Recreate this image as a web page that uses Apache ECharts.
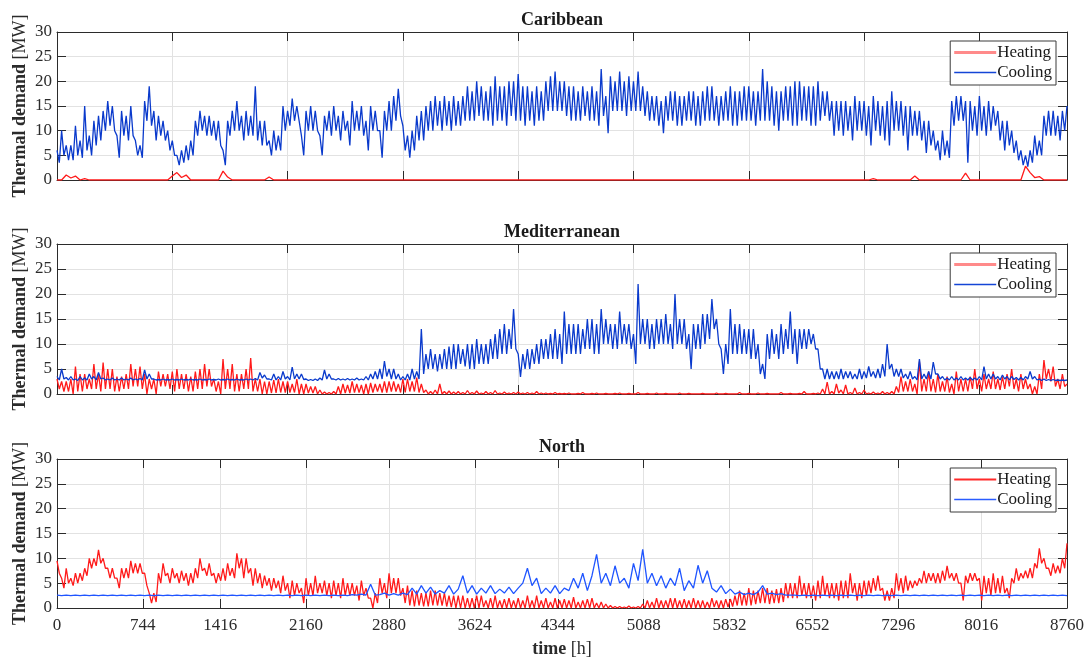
<!DOCTYPE html>
<html>
<head>
<meta charset="utf-8">
<script src="https://cdn.jsdelivr.net/npm/echarts@6/dist/echarts.min.js"></script>
<style>
html,body{margin:0;padding:0;background:#fff;}
#c{width:1087px;height:657px;}
</style>
</head>
<body>
<div id="c"></div>
<script>
// ---------- DATA ----------
const STEP_FINE_H = 20;   // hours between read samples for the dense traces
const STEP_COARSE_H = 40; // hours between read samples for the quiet traces
const panelTitles = ['Caribbean', 'Mediterranean', 'North'];
const seriesNames = ['Heating', 'Cooling'];
const monthTicks = [0, 744, 1416, 2160, 2880, 3624, 4344, 5088, 5832, 6552, 7296, 8016, 8760];
const kiloTicks = [0, 1000, 2000, 3000, 4000, 5000, 6000, 7000, 8000];

// Caribbean cooling (20 h samples, 0..8760)
const caribCooling = [
 6,3.5,10,5,7,4,7,4,11,5,8,4.5,15,6,9,5,12,7,13,8,
 14,10,16,11,15,10,9,4.5,14,9,13,8,15,9,8,5,7,4.5,16,12,
 19,11,14,8,13,9,12,8,10,6,8,5,5,3,6,3.5,7,4,8,5,
 12,9,14,10,13,9,13,9,12,8,12,7,6,3,12,9,14,10,16,10,
 13,8,14,9,13,9,19,8,12,7,12,7,8,5,10,6,9,6,15,10,
 14,11,16.5,12,15,12,9,5,14,10,15,10,14,10,9,5,13,10,14,9,
 15,10,13,8,14,10,12,7,16,10,14,10,15,9,12,6,15,10,14,10,
 10,4.5,14,10,16,10,17,12,18.5,13,11,6,9,4.5,10,6,13,8,14,8,
 15,10,16,10,17,11,16,10,17,11,16,10,17,11,16,11,17,12,19,12,
 18,12,20,13,19,12,18,12,19,11,21,12,19,12,19,11,20,13,20,12,
 21.5,12,19,11,19,12,18,11,19,12,18,12,20,14,21,14,22,14,20,14,
 20,13,19,12,19,12,18,12,19,13,18,12,19,12,18,11,22.5,13,17,9.5,
 21,14,20,14,22,14,20,13,21,14,20,14,22,14,19,13,18,12,17,12,
 17,11,16,9.5,17,12,18,12,18,11,17,11,17,12,18,12,18,11,17,11,
 18,12,19,12,19,12,17,11,17,12,18,12,19,11,18,11,18,12,19,12,
 19,12,18,11,18,12,22.5,12,20,12,19,11,18,10,18,12,19,12,19,11,
 20,11,20,12,19,12,19,11,19,11,20,12,18,13,18,12,16,9,16,10,
 16,9,16,10,15,8,17,10,16,10,16,9,15,7,17,10,16,9,15,8,
 16,7,18,10,16,10,16,9,15,6,15,9,14,9,14,8,12,5.5,12,7,
 10,6,8,4,10,5,8,4.5,16,11,17,12,17,12,16,3.5,16,10,15,9,
 17,10,15,9,16,10,15,11,14,8,12,6,12,7,10,5.5,8,4,6,3,
 5,2.7,6,3.5,9,5,8,5,13,9,14,9,14,9,13,8,14,10,15
];
// Caribbean heating (40 h samples)
const caribHeating = [
 0,0,1,0.4,0.8,0,0.3,0,0,0,
 0,0,0,0,0,0,0,0,0,0,
 0,0,0,0,0,0.8,1.5,0.5,1,0,
 0,0,0,0,0,0,1.8,0.6,0,0,
 0,0,0,0,0,0,0.6,0,0,0,
 0,0,0,0,0,0,0,0,0,0,
 0,0,0,0,0,0,0,0,0,0,
 0,0,0,0,0,0,0,0,0,0,
 0,0,0,0,0,0,0,0,0,0,
 0,0,0,0,0,0,0,0,0,0,
 0,0,0,0,0,0,0,0,0,0,
 0,0,0,0,0,0,0,0,0,0,
 0,0,0,0,0,0,0,0,0,0,
 0,0,0,0,0,0,0,0,0,0,
 0,0,0,0,0,0,0,0,0,0,
 0,0,0,0,0,0,0,0,0,0,
 0,0,0,0,0,0,0,0,0,0,
 0,0,0,0,0,0,0,0.3,0,0,
 0,0,0,0,0,0,0.8,0,0,0,
 0,0,0,0,0,0,0,1.4,0,0,
 0,0,0,0,0,0,0,0,0,0,
 2.8,1.5,0.5,0.7,0,0,0,0,0,0
];

// Mediterranean cooling (20 h samples)
const medCooling = [
 3.5,2.8,5,3,3.3,2.8,3.5,2.8,3,2.7,3.5,2.8,3.2,2.8,4,3,3.5,2.8,4.3,3,
 3.2,2.8,3,2.8,3.2,2.8,3,2.8,3.2,2.8,3,2.8,3.2,2.8,3,2.8,3.1,2.8,4.8,3,
 4,3,3,2.8,2.9,2.8,3,2.8,2.9,2.8,3,2.8,2.9,2.8,3,2.8,2.9,2.8,3,2.8,
 2.9,2.8,3,2.8,2.9,2.8,3,2.8,2.9,2.8,3,2.8,2.9,2.8,3,2.8,2.9,2.8,3,2.8,
 2.9,2.8,3,2.8,3,2.8,3.1,2.8,4.3,3.2,3.8,3,3,2.8,4,2.8,3.5,2.8,4.5,3,
 3.5,2.8,5.4,3,4,3,4,2.9,3,2.7,2.9,2.7,3,2.7,3.2,2.8,4.8,3,4,3,
 3,2.8,3.1,2.8,3,2.8,3.1,2.8,3,2.8,3.2,2.8,3,2.8,3.5,2.8,4,3,4.5,3,
 5,3,6.6,3.5,5,3,5,3,4,2.8,3.5,2.8,4,2.8,5,3,4.5,3,13,4,
 8,5,9,5,8,4.5,8,5,9,5,9.5,5,10,5,10,6,9,5.5,10,5,
 10,5,11,6,10,6,10,6,11,7,12,7,13,8,14,8,13,9,17,9,
 8,3.4,8,5,9,5,9,6,10,6,11,7,11,7,12,7,13,7,12,6,
 16.5,8,14,8,14,8,14,8,13,9,15,9,15,8,14,8,17,10,15,10,
 14,9,14,9,16.5,10,14,10,14,9,12,6,22,10,15,10,15,9,14,9,
 15,10,15,10,16,10,14,9,20,10,15,10,15,9,12,5,14,9,14,9,
 16,10,16,11,19,13,15,10,9,4,10,6,17,8,14,8,14,8,13,8,
 13,7,13,7,10,4,6,3,12,7,13,8,12,7,14,8,13,9,16.5,8,
 13,6,13,9,13,9,13,10,12,9,9,5,5,3,5,3,4.5,3,4.5,3,
 5,3,4.5,3.2,4.5,3,4,3,5,3,4.5,3.2,5.5,3.5,4.5,3.2,5,3.2,6,3.5,
 10,5,6,3.5,5,3.5,5,3.2,4,3,4.5,3,3.5,2.8,7,3,4,3,4.5,3,
 6.4,4,4,3,3.5,2.8,3.2,2.8,3.5,2.8,3.2,2.8,3.5,2.8,3.2,2.8,3.3,2.8,3.2,2.8,
 3.5,2.8,5.5,3,4,3,4,3,3.5,2.8,3.8,3,3.5,2.8,3.5,2.9,3.3,2.8,3.3,2.8,
 3.5,3,4.5,3,3.5,2.8,3,2.7,3,2.7,2.9,2.7,2.9,2.7,2.8,2.7,2.8,2.7,2.8
];
// Mediterranean heating (20 h samples)
const medHeating = [
 3,1,2.5,0.5,2.5,0.5,3,0,5.5,0.5,4,0.5,4,1,3,1,6,1,4,0.5,
 6.3,1,5,1,5,0.5,3.5,0.5,3.5,1,4,1,6,1.5,5,1.5,5.5,1,4,0,
 3,1,3,0,4.5,1.5,4,1.5,4,1,4.5,0.5,5,1,4,1,4,0.5,3.5,0.5,
 4.5,1,5,1,6,1.5,5,1.5,3,0.5,2.5,0,7,1,5,1,6,0.5,4,0.5,
 4,1,5,1,7.2,0.5,3,0.5,3,0,2.5,0,2.5,0.2,2.8,0.2,3,0.3,2.5,0.3,
 2.5,0.3,2,0.3,3,0,2,0,2,0.2,1.5,0.2,1.5,0,0.8,0,0.4,0,0.3,0,
 0.5,0,1.5,0,2,0.2,1.8,0.2,2.5,0.3,2,0.3,1.8,0,2,0,2.2,0.3,2,0.5,
 2,0.3,2.5,0.3,2.5,0.5,2.5,0.5,2,0.3,3,0.3,3,0.5,2.5,0.5,3.3,0.3,2,0.3,
 0.8,0,0.5,0,0.8,0,2,0,0.5,0,0.6,0,0.4,0,0.5,0,0.3,0,0.7,0,
 0.3,0,0.6,0,0.2,0,0.5,0,0.3,0,0.7,0,0.2,0,0.4,0,0.2,0,0.3,0,
 0.4,0,0.2,0,0.3,0,0.2,0,0.5,0,0.2,0,0.2,0,0.1,0,0.3,0,0.1,0,
 0.1,0,0.2,0,0,0,0.1,0,0.3,0,0,0,0.1,0,0.2,0,0,0,0.1,0,
 0,0,0.1,0,0.2,0,0,0,0.1,0,0,0,0.3,0,0,0,0.1,0,0,0,
 0.2,0,0,0,0.1,0,0,0,0,0,0.2,0,0,0,0.1,0,0,0,0,0,
 0.1,0,0,0,0,0,0.2,0,0,0,0.1,0,0,0,0,0,0.3,0,0,0,
 0.1,0,0,0,0.2,0,0,0,0.1,0,0,0,0,0,0.3,0,0,0,0.1,0,
 0,0,0.1,0,0.5,0,0,0,0.1,0,0.2,0,1,0,2.4,0,0.5,0,2,0.2,
 0.8,0,1.8,0,0.3,0,1.2,0,0.3,0,0.8,0,0.2,0,0.4,0,0.2,0,0.5,0,
 0.3,0,0.5,0,1.5,0.3,3.5,0.5,2.5,0.5,3,0.5,2,0,6.5,0.5,3,0.5,4.5,0.5,
 3,0.3,4,0.5,2.5,0.5,3.5,0.3,2,0,4.5,0.5,3,0.5,3,0.5,3.5,1,5,1,
 3,0.5,4,1,3,1,4.5,1,3,0.8,3.5,1,4,1.5,5,1,3,0.5,4,1,
 3,1,2,0,1.5,0,4,1,6.8,3,5,2.5,5.5,1.5,3,1,4,1.5,2
];

// North heating (20 h samples)
const northHeating = [
 9.5,7,6,4,8,5,6,4.5,7,5,7,5.5,8,6.5,10,8,10,8.5,11.7,9,
 10,8,8,6,8,6,6,4,8,6,8,6,9.5,7,9,7,9,7,7,4.5,
 3,1,3,1.2,7,5,9,6.5,7,5,8,6,7,5,7.5,5.5,7,4.5,7,5,
 8,6,10,7.5,8,6.5,9,6.5,7,5,7,5.5,8,5.5,9,6.5,8,6,11,8,
 10,6,10,7,8,4.5,8,5,7,4,6.5,4.5,6,3.5,6,4,5.5,3,6.5,3.5,
 5,2,5.5,2.5,5,3,4,1,6,2.5,5,2.5,6.5,3,5,3,5.5,2.5,5,2,
 5.5,2.5,5,2,6,2.5,5,2.5,5,2.5,4.5,1.5,5.5,2.5,4,2,2,0,3,1,
 6,3,5,2,7,3,6,3,6,2.5,4,1,4.5,0.5,3.5,0.3,3.5,0.5,3,0.3,
 3,0.3,3.5,0.5,3.5,0.5,3,0.5,3,0.3,2.5,0.2,2.5,0,2.5,0,2.5,0,2,0,
 2,0,2.5,0,2.5,0.2,1.5,0,2,0,2.5,0,1.5,0,1.8,0,2,0,1.5,0,
 2,0,1.5,0,2.5,0,1.5,0,2.5,0,1.5,0,2,0,1.2,0,2,0,1.5,0,
 1.8,0,1.5,0,2.2,0,1.2,0,1.5,0,1.8,0,2,0,1,0,1.2,0,0.8,0,
 0.5,0,0.3,0,0.3,0,0.2,0,0.4,0,0.2,0,0.3,0,0.8,0,1.5,0,1.2,0,
 2,0,1.5,0,1.5,0,2,0,2,0,1.5,0,1.8,0,1.5,0,2,0,1.5,0,
 1.5,0,1.2,0,2,0.2,1.5,0,1.5,0,1.8,0.2,1.8,0.3,2.5,0.5,3.5,0.5,3,0.5,
 4,0.5,3.5,0.8,3.5,1,4,1,4,0.8,3.5,1,3.8,1,4,1.2,5,2,5,2,
 5,2,6.5,2.5,5,2,5,2,4.5,1.5,5.5,2,6.5,2.5,5,2,5,2,5,1.5,
 5.5,2,5.5,2,7,3,5,1.5,5,2,5.5,2.5,5.5,3,6,3.5,6.5,3.5,4,1.5,
 3.5,1.5,4,2,7,3.5,6,3,6.5,3.5,5.5,4,5.5,4.5,6,5,7.5,5,7,5.5,
 7,5,7,5,7.5,5.5,8.5,6,7,5.5,7,5,5,1.5,6.5,5,7,5.5,7,5.5,
 6,1.5,6.5,3,6,2.5,7,3,6,3,6.5,3,4,2,6,5,8,5.5,7,6,
 7.5,6,8,6,9,8,12,9,10,8,8,6.5,9,7,8.5,7,10,8,13
];
// North cooling (40 h samples)
const northCooling = [
 2.6,2.5,2.6,2.5,2.6,2.5,2.6,2.5,2.6,2.5,
 2.6,2.5,2.6,2.5,2.6,2.5,2.6,2.5,2.6,2.5,
 2.6,2.5,2.6,2.5,2.6,2.5,2.6,2.5,2.6,2.5,
 2.6,2.5,2.6,2.5,2.6,2.5,2.6,2.5,2.6,2.5,
 2.6,2.5,2.6,2.5,2.6,2.5,2.6,2.5,2.6,2.5,
 2.6,2.5,2.6,2.5,2.6,2.5,2.6,2.5,2.6,2.5,
 2.6,2.5,2.6,2.5,2.7,2.6,2.8,2.6,4.8,2.6,
 2.7,3,2.6,2.9,2.6,3,2.7,4,2.8,4.5,
 3,4.2,2.8,3.5,3,4.5,2.8,3.8,6.5,3,
 4.5,2.8,4,3,4.5,2.9,3.8,3,4.2,2.9,
 4,5,8,4.5,6,2.9,4,3,4.5,2.9,
 4,3.5,6,4,7,3.5,6.5,10.8,5,7,
 4.5,8.5,5,6,4,9,5.5,11.8,5,7,
 4.5,6.5,4,6,4.5,8,3.5,5.5,4,8.6,
 5,7.5,4,3.2,4.5,2.9,3.8,2.8,3.2,2.7,
 3,2.7,3.2,4.5,2.8,3,2.7,2.9,2.6,2.6,
 2.6,2.5,2.6,2.5,2.6,2.5,2.6,2.5,2.6,2.5,
 2.6,2.5,2.6,2.5,2.6,2.5,2.6,2.5,2.6,2.5,
 2.6,2.5,2.6,2.5,2.6,2.5,2.6,2.5,2.6,2.5,
 2.6,2.5,2.6,2.5,2.6,2.5,2.6,2.5,2.6,2.5,
 2.6,2.5,2.6,2.5,2.6,2.5,2.6,2.5,2.6,2.5,
 2.6,2.5,2.6,2.5,2.6,2.5,2.6,2.5,2.6,2.5
];

const heatingData = [caribHeating, medHeating, northHeating];
const heatingStep = [STEP_COARSE_H, STEP_FINE_H, STEP_FINE_H];
const coolingData = [caribCooling, medCooling, northCooling];
const coolingStep = [STEP_FINE_H, STEP_FINE_H, STEP_COARSE_H];

// ---------- STYLE ----------
const FONT = '"Liberation Serif", "Times New Roman", serif';
const AXIS_C = '#2b2b2b';
const GRID_C = '#e2e2e2';
const TEXT_C = '#2b2b2b';
const HEAT_C = ['#ff1a1a', '#ff1a1a', '#ff1a1a'];
const COOL_C = ['#0a3acc', '#0a3acc', '#1f55ff'];
const LEG_HEAT_C = ['#ff8a8a', '#ff8a8a', '#ff2a2a'];
const LEG_COOL_C = ['#1446d6', '#1446d6', '#2a5cff'];
const LEG_HEAT_ICON = ['path://M0,0H42V3H0Z', 'path://M0,0H42V3H0Z', 'path://M0,0H42V2H0Z'];
const LEG_COOL_ICON = 'path://M0,0H42V1.6H0Z';

const grids = [
  {left: 57, right: 20, top: 32, height: 148},
  {left: 57, right: 20, top: 244, height: 150},
  {left: 57, right: 20, top: 459, height: 149}
];
const legendTops = [41, 253, 468];

const toPairs = (arr, step) => arr.map((v, i) => [i * step, v]);

const xAxes = [], yAxes = [], series = [], legends = [];
for (let p = 0; p < 3; p++) {
  const ticks = p === 2 ? monthTicks : kiloTicks;
  const tickStyle = {show: true, inside: true, length: 9, customValues: ticks, lineStyle: {color: AXIS_C, width: 1}};
  xAxes.push({
    gridIndex: p, type: 'value', min: 0, max: 8760, position: 'bottom',
    axisLine: {show: true, onZero: false, lineStyle: {color: AXIS_C, width: 1}},
    axisTick: tickStyle,
    axisLabel: {show: p === 2, customValues: ticks, formatter: v => String(v), color: TEXT_C,
      fontFamily: FONT, fontSize: 17, margin: 9},
    splitLine: {show: true, lineStyle: {color: GRID_C, width: 1}},
    name: p === 2 ? '{b|time} {n|[h]}' : '',
    nameLocation: 'middle', nameGap: 32, nameMoveOverlap: false,
    nameTextStyle: {fontFamily: FONT, fontSize: 18, color: TEXT_C,
      rich: {b: {fontFamily: FONT, fontSize: 18, fontWeight: 'bold', color: TEXT_C},
             n: {fontFamily: FONT, fontSize: 18, color: TEXT_C}}}
  });
  xAxes.push({
    gridIndex: p, type: 'value', min: 0, max: 8760, position: 'top',
    axisLine: {show: true, onZero: false, lineStyle: {color: AXIS_C, width: 1}},
    axisTick: tickStyle,
    axisLabel: {show: false},
    splitLine: {show: false},
    name: panelTitles[p], nameLocation: 'middle', nameGap: 3, nameMoveOverlap: false,
    nameTextStyle: {fontFamily: FONT, fontSize: 18, fontWeight: 'bold', color: '#1a1a1a', verticalAlign: 'bottom'}
  });
  const yTick = {show: true, inside: true, length: 9, lineStyle: {color: AXIS_C, width: 1}};
  yAxes.push({
    gridIndex: p, type: 'value', min: 0, max: 30, interval: 5, position: 'left',
    axisLine: {show: true, onZero: false, lineStyle: {color: AXIS_C, width: 1}},
    axisTick: yTick,
    axisLabel: {color: TEXT_C, fontFamily: FONT, fontSize: 17, margin: 5},
    splitLine: {show: true, lineStyle: {color: GRID_C, width: 1}},
    name: '{b|Thermal demand} {n|[MW]}', nameLocation: 'middle', nameRotate: 90, nameGap: 28,
    nameMoveOverlap: false,
    nameTextStyle: {fontFamily: FONT, fontSize: 18, color: TEXT_C,
      rich: {b: {fontFamily: FONT, fontSize: 18, fontWeight: 'bold', color: TEXT_C},
             n: {fontFamily: FONT, fontSize: 18, color: TEXT_C}}}
  });
  yAxes.push({
    gridIndex: p, type: 'value', min: 0, max: 30, interval: 5, position: 'right',
    axisLine: {show: true, onZero: false, lineStyle: {color: AXIS_C, width: 1}},
    axisTick: yTick,
    axisLabel: {show: false},
    splitLine: {show: false}
  });
  series.push({
    type: 'line', name: seriesNames[0], xAxisIndex: 2 * p, yAxisIndex: 2 * p,
    data: toPairs(heatingData[p], heatingStep[p]), symbol: 'none', silent: true, animation: false,
    lineStyle: {color: HEAT_C[p], width: 1.3}, itemStyle: {color: HEAT_C[p]}
  });
  series.push({
    type: 'line', name: seriesNames[1], xAxisIndex: 2 * p, yAxisIndex: 2 * p,
    data: toPairs(coolingData[p], coolingStep[p]), symbol: 'none', silent: true, animation: false,
    lineStyle: {color: COOL_C[p], width: 1.3}, itemStyle: {color: COOL_C[p]}
  });
  legends.push({
    orient: 'vertical', right: 31, top: legendTops[p],
    backgroundColor: '#fff', borderColor: '#3a3a3a', borderWidth: 1,
    padding: [3, 4, 4, 4], itemWidth: 42, itemHeight: 12, itemGap: 3,
    selectedMode: false,
    textStyle: {fontFamily: FONT, fontSize: 17, color: '#1a1a1a', padding: [0, 0, 0, -4]},
    data: [
      {name: seriesNames[0], icon: LEG_HEAT_ICON[p], itemStyle: {color: LEG_HEAT_C[p]}},
      {name: seriesNames[1], icon: LEG_COOL_ICON, itemStyle: {color: LEG_COOL_C[p]}}
    ]
  });
}

const chart = echarts.init(document.getElementById('c'), null, {renderer: 'canvas'});
chart.setOption({
  backgroundColor: '#fff',
  animation: false,
  grid: grids.map(g => Object.assign({containLabel: false, outerBoundsMode: 'none'}, g)),
  xAxis: xAxes,
  yAxis: yAxes,
  legend: legends,
  series: series
});
</script>
</body>
</html>
